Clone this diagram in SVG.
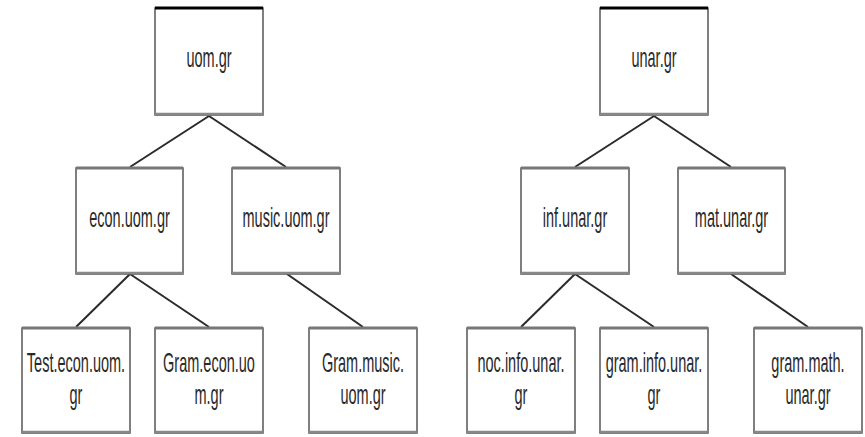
<svg xmlns="http://www.w3.org/2000/svg" width="865" height="437" viewBox="0 0 865 437">
<style>
.box{fill:#fff;stroke:#555;stroke-width:1.5}
.top{stroke:#777;stroke-width:3}
.toproot{stroke:#000;stroke-width:3}
.bot{stroke:#888;stroke-width:2.5}
.lbl{font-family:"Liberation Sans",Arial,sans-serif;font-size:14.5px;fill:#2a2a2a;text-anchor:middle}
.edge{stroke:#2a2a2a;stroke-width:2;fill:none}
</style>
<rect width="865" height="437" fill="#fff"/>
<g id="connectors">
<line class="edge" x1="209" y1="116" x2="130" y2="167"/>
<line class="edge" x1="209" y1="116" x2="286" y2="167"/>
<line class="edge" x1="130" y1="274" x2="76" y2="327"/>
<line class="edge" x1="130" y1="274" x2="209" y2="327"/>
<line class="edge" x1="287" y1="274" x2="363" y2="327"/>
<line class="edge" x1="654" y1="116" x2="575" y2="167"/>
<line class="edge" x1="654" y1="116" x2="731" y2="167"/>
<line class="edge" x1="575" y1="274" x2="521" y2="327"/>
<line class="edge" x1="575" y1="274" x2="654" y2="327"/>
<line class="edge" x1="731" y1="274" x2="808" y2="327"/>
</g>
<g id="uom">
<rect class="box" x="155" y="8" width="108" height="107"/>
<line class="toproot" x1="155" y1="8" x2="263" y2="8"/>
<line class="bot" x1="155" y1="114" x2="263" y2="114"/>
<text class="lbl" transform="translate(209,67) scale(1,1.85)">uom.gr</text>
</g>
<g id="econ">
<rect class="box" x="76" y="168" width="107" height="106"/>
<line class="top" x1="76" y1="168" x2="183" y2="168"/>
<line class="bot" x1="76" y1="273" x2="183" y2="273"/>
<text class="lbl" transform="translate(129.5,227) scale(1,1.85)">econ.uom.gr</text>
</g>
<g id="music">
<rect class="box" x="232" y="168" width="108" height="106"/>
<line class="top" x1="232" y1="168" x2="340" y2="168"/>
<line class="bot" x1="232" y1="273" x2="340" y2="273"/>
<text class="lbl" transform="translate(286,227) scale(1,1.85)">music.uom.gr</text>
</g>
<g id="test-econ">
<rect class="box" x="22" y="328" width="108" height="105"/>
<line class="top" x1="22" y1="328" x2="130" y2="328"/>
<line class="bot" x1="22" y1="432" x2="130" y2="432"/>
<text class="lbl" transform="translate(76,372) scale(1,1.85)">Test.econ.uom.</text>
<text class="lbl" transform="translate(76,404) scale(1,1.85)">gr</text>
</g>
<g id="gram-econ">
<rect class="box" x="155" y="328" width="108" height="105"/>
<line class="top" x1="155" y1="328" x2="263" y2="328"/>
<line class="bot" x1="155" y1="432" x2="263" y2="432"/>
<text class="lbl" transform="translate(209,372) scale(1,1.85)">Gram.econ.uo</text>
<text class="lbl" transform="translate(209,404) scale(1,1.85)">m.gr</text>
</g>
<g id="gram-music">
<rect class="box" x="309" y="328" width="108" height="105"/>
<line class="top" x1="309" y1="328" x2="417" y2="328"/>
<line class="bot" x1="309" y1="432" x2="417" y2="432"/>
<text class="lbl" transform="translate(363,372) scale(1,1.85)">Gram.music.</text>
<text class="lbl" transform="translate(363,404) scale(1,1.85)">uom.gr</text>
</g>
<g id="unar">
<rect class="box" x="600" y="8" width="108" height="107"/>
<line class="toproot" x1="600" y1="8" x2="708" y2="8"/>
<line class="bot" x1="600" y1="114" x2="708" y2="114"/>
<text class="lbl" transform="translate(654,67) scale(1,1.85)">unar.gr</text>
</g>
<g id="inf">
<rect class="box" x="521" y="168" width="108" height="106"/>
<line class="top" x1="521" y1="168" x2="629" y2="168"/>
<line class="bot" x1="521" y1="273" x2="629" y2="273"/>
<text class="lbl" transform="translate(575,227) scale(1,1.85)">inf.unar.gr</text>
</g>
<g id="mat">
<rect class="box" x="678" y="168" width="107" height="106"/>
<line class="top" x1="678" y1="168" x2="785" y2="168"/>
<line class="bot" x1="678" y1="273" x2="785" y2="273"/>
<text class="lbl" transform="translate(731.5,227) scale(1,1.85)">mat.unar.gr</text>
</g>
<g id="noc-info">
<rect class="box" x="467" y="328" width="108" height="105"/>
<line class="top" x1="467" y1="328" x2="575" y2="328"/>
<line class="bot" x1="467" y1="432" x2="575" y2="432"/>
<text class="lbl" transform="translate(521,372) scale(1,1.85)">noc.info.unar.</text>
<text class="lbl" transform="translate(521,404) scale(1,1.85)">gr</text>
</g>
<g id="gram-info">
<rect class="box" x="600" y="328" width="108" height="105"/>
<line class="top" x1="600" y1="328" x2="708" y2="328"/>
<line class="bot" x1="600" y1="432" x2="708" y2="432"/>
<text class="lbl" transform="translate(654,372) scale(1,1.85)">gram.info.unar.</text>
<text class="lbl" transform="translate(654,404) scale(1,1.85)">gr</text>
</g>
<g id="gram-math">
<rect class="box" x="754" y="328" width="108" height="105"/>
<line class="top" x1="754" y1="328" x2="862" y2="328"/>
<line class="bot" x1="754" y1="432" x2="862" y2="432"/>
<text class="lbl" transform="translate(808,372) scale(1,1.85)">gram.math.</text>
<text class="lbl" transform="translate(808,404) scale(1,1.85)">unar.gr</text>
</g>
</svg>
